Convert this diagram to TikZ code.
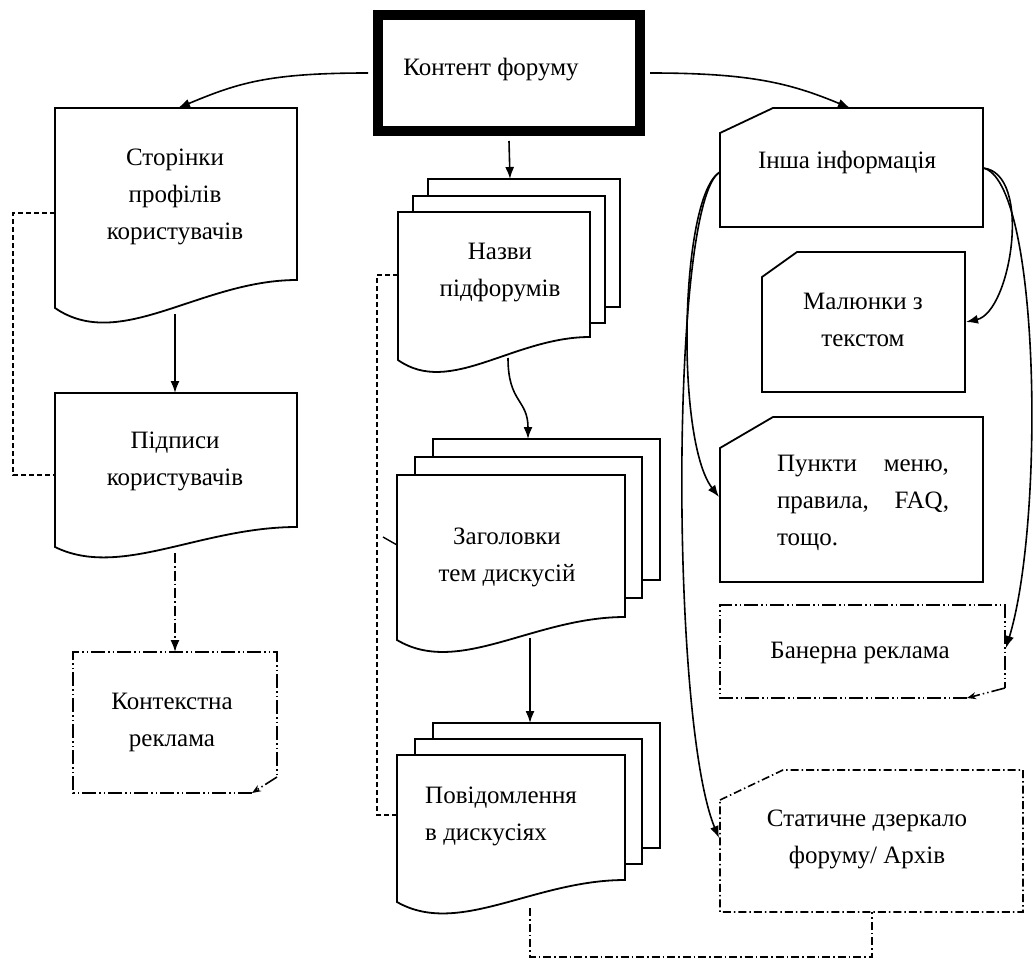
\documentclass[tikz,border=0pt]{standalone}
\usepackage{fontspec}
\setmainfont{Liberation Serif}
\usetikzlibrary{arrows.meta}
\newcommand\docshp[5]{% x1 x2 top rightbottom leftbottom
  \draw[shp] (#1,#3) -- (#2,#3) -- (#2,#4) .. controls ({#1+0.6*(#2-#1)},#4) and ({#1+0.27*(#2-#1)},{#5+1.6*(#5-#4)}) .. (#1,#5) -- cycle;}
\begin{document}
\begin{tikzpicture}[x=1pt,y=-1pt,
  shp/.style={draw, line width=1.8pt, fill=white, line join=miter},
  txt/.style={font=\fontsize{25}{37}\selectfont, align=center, inner sep=0pt},
  arr/.style={line width=1.6pt, -{Latex[length=12pt,width=9pt]}},
  smallarr/.style={line width=1.4pt, -{Stealth[length=9pt,width=7pt]}},
  ddot/.style={line width=1.6pt, dash pattern=on 14pt off 3pt on 1.5pt off 3pt on 1.5pt off 3pt},
  dshdot/.style={line width=1.6pt, dash pattern=on 8pt off 3pt on 1.5pt off 3pt},
  dsh/.style={line width=1.5pt, dash pattern=on 5pt off 3pt}]
\useasboundingbox[fill=white] (0,0) rectangle (1035,960);

% ---------- top box
\node[draw, line width=10pt, minimum width=262pt, minimum height=116pt, inner sep=0pt] (top) at (509,73) {};
\node[txt] (t0) at (491,70) {Контент форуму};

% ---------- left column
\docshp{55}{297}{108}{280}{308}
\node[txt] (s1) at (175,197) {Сторінки\\профілів\\користувачів};
\docshp{55}{297}{393}{527}{547}
\node[txt] (s2) at (175,461) {Підписи\\користувачів};
\draw[ddot] (252,793) -- (73,793) -- (73,652) -- (277,652) -- (277,777);
\coordinate (krc) at (277,777);
\coordinate (krd) at (252,793);
\draw[smallarr, ddot] (krc) -- (krd);
\node[txt] (kr) at (172,722) {Контекстна\\реклама};

% ---------- middle column
\draw[shp] (428,179) rectangle (620,307);
\draw[shp] (413,196) rectangle (605,323);
\docshp{398}{590}{212}{337}{360}
\node[txt] (n1) at (500,273) {Назви\\підфорумів};

\draw[shp] (433,439) rectangle (660,580);
\draw[shp] (415,457) rectangle (642,598);
\docshp{397}{625}{475}{617}{640}
\node[txt] (n2) at (507,557) {Заголовки\\тем дискусій};

\draw[shp] (433,723) rectangle (660,848);
\draw[shp] (415,739) rectangle (642,864);
\docshp{397}{625}{755}{880}{902}
\node[txt, align=left, anchor=west] (n3) at (425,816) {Повідомлення\\в дискусіях};

% ---------- right column
\draw[shp] (773,108) -- (983,108) -- (983,227) -- (720,227) -- (720,133) -- cycle;
\node[txt] (i1) at (847,162) {Інша інформація};
\draw[shp] (797,252) -- (965,252) -- (965,392) -- (762,392) -- (762,277) -- cycle;
\node[txt] (i2) at (863,320) {Малюнки з\\текстом};
\draw[shp] (773,417) -- (983,417) -- (983,582) -- (720,582) -- (720,448) -- cycle;
\node[txt, align=left, text width=172pt] (i3) at (863,503) {Пункти\hfill меню,\\правила,\hfill FAQ,\\тощо.};
\draw[ddot] (967,698) -- (720,698) -- (720,605) -- (1005,605) -- (1005,688);
\coordinate (bnc) at (1005,688);
\coordinate (bnd) at (967,698);
\draw[smallarr, ddot] (bnc) -- (bnd);
\node[txt] (b1) at (860,653) {Банерна реклама};
\draw[dshdot] (720,800) -- (783,770) -- (1023,770) -- (1023,912) -- (720,912) -- cycle;
\node[txt] (st) at (867,839) {Статичне дзеркало\\форуму/ Архів};

% ---------- connection points
\coordinate (s1t) at (178,108);
\coordinate (r1t) at (850,108);
\coordinate (n1t) at (510,179);
\coordinate (s1b) at (175,314);
\coordinate (s2t) at (175,393);
\coordinate (s2b) at (175,553);
\coordinate (krt) at (175,652);
\coordinate (s1l) at (55,213);
\coordinate (s2l) at (55,475);
\coordinate (n1b) at (508,358);
\coordinate (n2t) at (528,439);
\coordinate (n2b) at (530,638);
\coordinate (n3t) at (530,723);
\coordinate (n1l) at (398,275);
\coordinate (n2l) at (397,545);
\coordinate (n3l) at (397,815);
\coordinate (n3b) at (530,908);
\coordinate (stb) at (872,912);
\coordinate (i1r) at (983,168);
\coordinate (i1l) at (720,172);
\coordinate (i2r) at (966,322);
\coordinate (i3l) at (719,497);
\coordinate (b1r) at (1006,648);
\coordinate (stl) at (719,838);

% ---------- connectors
\draw[arr] ([xshift=-5pt]top.west) .. controls +(-100,0) and +(60,-25) .. (s1t);
\draw[arr] ([xshift=5pt]top.east) .. controls +(100,0) and +(-60,-25) .. (r1t);
\draw[arr] ([yshift=-5pt]top.south) -- (n1t);
\draw[arr] (s1b) -- (s2t);
\draw[arr, dash pattern=on 10pt off 3pt on 1.5pt off 3pt] (s2b) -- (krt);
\draw[dsh] (s1l) -- (13,213) -- (13,475) -- (s2l);
\draw[arr] (n1b) .. controls +(0,45) and +(0,-40) .. (n2t);
\draw[arr] (n2b) -- (n3t);
\draw[dsh] (n1l) -- (377,275) -- (377,815) -- (n3l);
\draw[line width=1.4pt] (383,537) -- (n2l);
\draw[dshdot] (n3b) -- (530,957) -- (872,957) -- (stb);
\draw[arr] (i1r) .. controls +(50,5) and +(45,-10) .. (i2r);
\draw[arr] (i1r) .. controls +(57,12) and +(39,-128) .. (b1r);
\draw[arr] (i1l) .. controls +(-40,23) and +(-44,-57) .. (i3l);
\draw[arr] (i1l) .. controls +(-50,28) and +(-49,-118) .. (stl);
\end{tikzpicture}
\end{document}
